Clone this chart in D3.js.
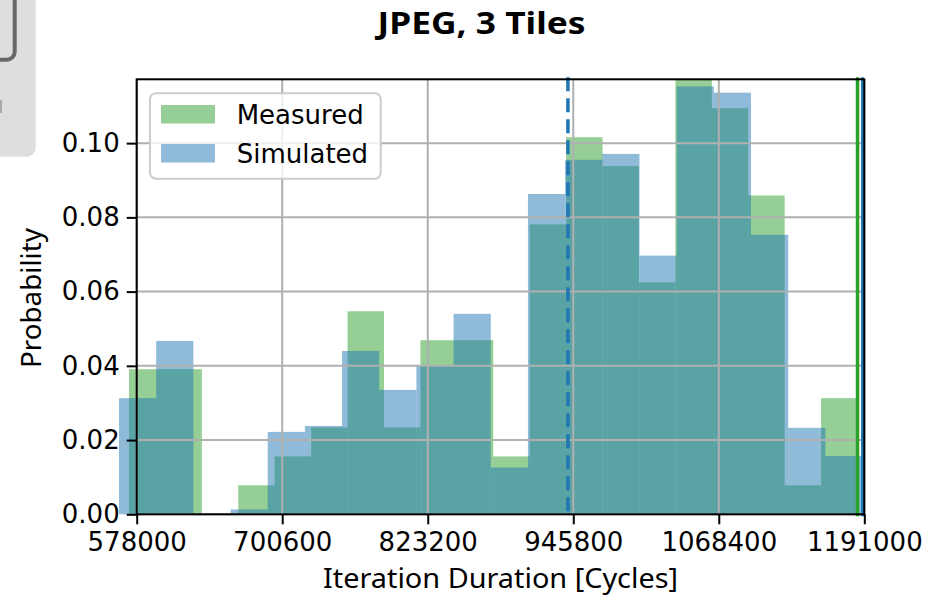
<!DOCTYPE html>
<html>
<head>
<meta charset="utf-8">
<script src="https://cdn.jsdelivr.net/npm/d3@7"></script>
<style>
  body { margin: 0; background: #fff; }
  svg { display: block; }
</style>
</head>
<body>
<svg id="chart" width="941" height="596"></svg>
<script>
var width = 941;
var height = 596;
var margin = ({top: 79.3, right: 941 - 864.3, bottom: 596 - 514.3, left: 136.7});

// histogram data, 20 bins each (probability per bin)
var measuredRange = [571500, 1185300];
var measured = [0.0391, 0.0391, 0, 0.0078, 0.0156, 0.0234, 0.0547, 0.0234, 0.0469, 0.0469,
                0.0156, 0.0781, 0.1016, 0.0938, 0.0625, 0.1172, 0.1094, 0.0859, 0.0078, 0.0313];

var simulatedRange = [563100, 1189500];
var simulated = [0.0313, 0.0467, 0, 0.0013, 0.0222, 0.0238, 0.0440, 0.0335, 0.0400, 0.0540,
                 0.0126, 0.0863, 0.0955, 0.0971, 0.0697, 0.1153, 0.1136, 0.0753, 0.0233, 0.0157];

// vertical marker lines
var simulatedMean = 941300;
var measuredMax = 1185300;
var simulatedMax = 1189500;

var xTicks = [578000, 700600, 823200, 945800, 1068400, 1191000];
var yTicks = [0, 0.02, 0.04, 0.06, 0.08, 0.10];

var green = "#2ca02c";
var blue = "#1f77b4";

var svg = d3.select("#chart");

// leftover ui overlay in the top-left corner of the screenshot
svg.append("rect")
    .attr("x", -20).attr("y", -20)
    .attr("width", 55.7).attr("height", 176.7)
    .attr("rx", 9)
    .attr("fill", "#dedede");
svg.append("rect")
    .attr("x", -30).attr("y", -30)
    .attr("width", 44.7).attr("height", 89.7)
    .attr("rx", 8)
    .attr("fill", "none")
    .attr("stroke", "#686868")
    .attr("stroke-width", 4);
svg.append("rect")
    .attr("x", 0).attr("y", 100)
    .attr("width", 2).attr("height", 13)
    .attr("fill", "#aaa");

var x = d3.scaleLinear()
    .domain([578000, 1191000])
    .range([margin.left, width - margin.right]);

var y = d3.scaleLinear()
    .domain([0, 0.1172])
    .range([height - margin.bottom, margin.top]);

function bins(range, values) {
    var w = (range[1] - range[0]) / values.length;
    return values.map((v, i) => ({x0: range[0] + i * w, x1: range[0] + (i + 1) * w, v: v}));
}

function drawHist(data, color) {
    svg.append("g")
        .selectAll("rect")
        .data(data)
        .join("rect")
        .attr("x", d => x(d.x0))
        .attr("width", d => x(d.x1) - x(d.x0))
        .attr("y", d => y(d.v))
        .attr("height", d => y(0) - y(d.v))
        .attr("fill", color)
        .attr("fill-opacity", 0.5);
}

drawHist(bins(measuredRange, measured), green);
drawHist(bins(simulatedRange, simulated), blue);

// grid on top of the bars
var grid = svg.append("g").attr("stroke", "#b0b0b0").attr("stroke-width", 2);
grid.selectAll(".vg")
    .data(xTicks)
    .join("line")
    .attr("x1", d => x(d)).attr("x2", d => x(d))
    .attr("y1", margin.top).attr("y2", height - margin.bottom);
grid.selectAll(".hg")
    .data(yTicks)
    .join("line")
    .attr("x1", margin.left).attr("x2", width - margin.right)
    .attr("y1", d => y(d)).attr("y2", d => y(d));

// marker lines
svg.append("line")
    .attr("x1", x(simulatedMean)).attr("x2", x(simulatedMean))
    .attr("y1", margin.top - 2).attr("y2", height - margin.bottom + 2)
    .attr("stroke", blue).attr("stroke-width", 3.5)
    .attr("stroke-dasharray", "14,7");
svg.append("line")
    .attr("x1", x(measuredMax)).attr("x2", x(measuredMax))
    .attr("y1", margin.top - 2).attr("y2", height - margin.bottom + 2)
    .attr("stroke", green).attr("stroke-width", 3.5);
svg.append("line")
    .attr("x1", x(simulatedMax)).attr("x2", x(simulatedMax))
    .attr("y1", margin.top - 2).attr("y2", height - margin.bottom + 2)
    .attr("stroke", blue).attr("stroke-width", 3);

// spines
svg.append("rect")
    .attr("x", margin.left).attr("y", margin.top)
    .attr("width", width - margin.left - margin.right)
    .attr("height", height - margin.top - margin.bottom)
    .attr("fill", "none")
    .attr("stroke", "#000")
    .attr("stroke-width", 2);

var xAxis = (g) =>
    g
        .attr("transform", `translate(0,${height - margin.bottom})`)
        .call(d3.axisBottom(x).tickValues(xTicks).tickFormat(d3.format("d")).tickSize(10).tickPadding(8))
        .call(g => g.select(".domain").remove())
        .call(g => g.selectAll(".tick line").attr("stroke", "#000").attr("stroke-width", 2))
        .call(g => g.selectAll(".tick text")
            .attr("fill", "#000")
            .style("font-family", "DejaVu Sans")
            .style("font-size", "26px"));

var yAxis = (g) =>
    g
        .attr("transform", `translate(${margin.left},0)`)
        .call(d3.axisLeft(y).tickValues(yTicks).tickFormat(d3.format(".2f")).tickSize(10).tickPadding(7))
        .call(g => g.select(".domain").remove())
        .call(g => g.selectAll(".tick line").attr("stroke", "#000").attr("stroke-width", 2))
        .call(g => g.selectAll(".tick text")
            .attr("fill", "#000")
            .style("font-family", "DejaVu Sans")
            .style("font-size", "26px"));

svg.append("g").call(xAxis);
svg.append("g").call(yAxis);

// axis labels + title
svg.append("text")
    .attr("x", 500.5)
    .attr("y", 588)
    .attr("text-anchor", "middle")
    .attr("textLength", 355)
    .attr("lengthAdjust", "spacingAndGlyphs")
    .style("font-family", "Noto Sans")
    .style("font-size", "27px")
    .text("Iteration Duration [Cycles]");

svg.append("text")
    .attr("transform", "translate(41,298) rotate(-90)")
    .attr("text-anchor", "middle")
    .attr("textLength", 140)
    .attr("lengthAdjust", "spacingAndGlyphs")
    .style("font-family", "Noto Sans")
    .style("font-size", "27px")
    .text("Probability");

svg.append("text")
    .attr("x", 481.5)
    .attr("y", 33.5)
    .attr("text-anchor", "middle")
    .attr("textLength", 208)
    .attr("lengthAdjust", "spacingAndGlyphs")
    .style("font-family", "Noto Sans")
    .style("font-weight", "bold")
    .style("font-size", "31px")
    .text("JPEG, 3 Tiles");

// legend
var legend = svg.append("g");
legend.append("rect")
    .attr("x", 150).attr("y", 93.3)
    .attr("width", 230.7).attr("height", 85.4)
    .attr("rx", 6)
    .attr("fill", "#fff").attr("fill-opacity", 0.8)
    .attr("stroke", "#cccccc").attr("stroke-width", 2);

var legendItems = [["Measured", green], ["Simulated", blue]];
legend.selectAll(".sw")
    .data(legendItems)
    .join("rect")
    .attr("x", 161).attr("y", (d, i) => 105 + i * 39)
    .attr("width", 54).attr("height", 18.5)
    .attr("fill", d => d[1]).attr("fill-opacity", 0.5);
legend.selectAll(".lt")
    .data(legendItems)
    .join("text")
    .attr("x", 236.7).attr("y", (d, i) => 124 + i * 38.7)
    .style("font-family", "DejaVu Sans")
    .style("font-size", "26px")
    .text(d => d[0]);
</script>
</body>
</html>
